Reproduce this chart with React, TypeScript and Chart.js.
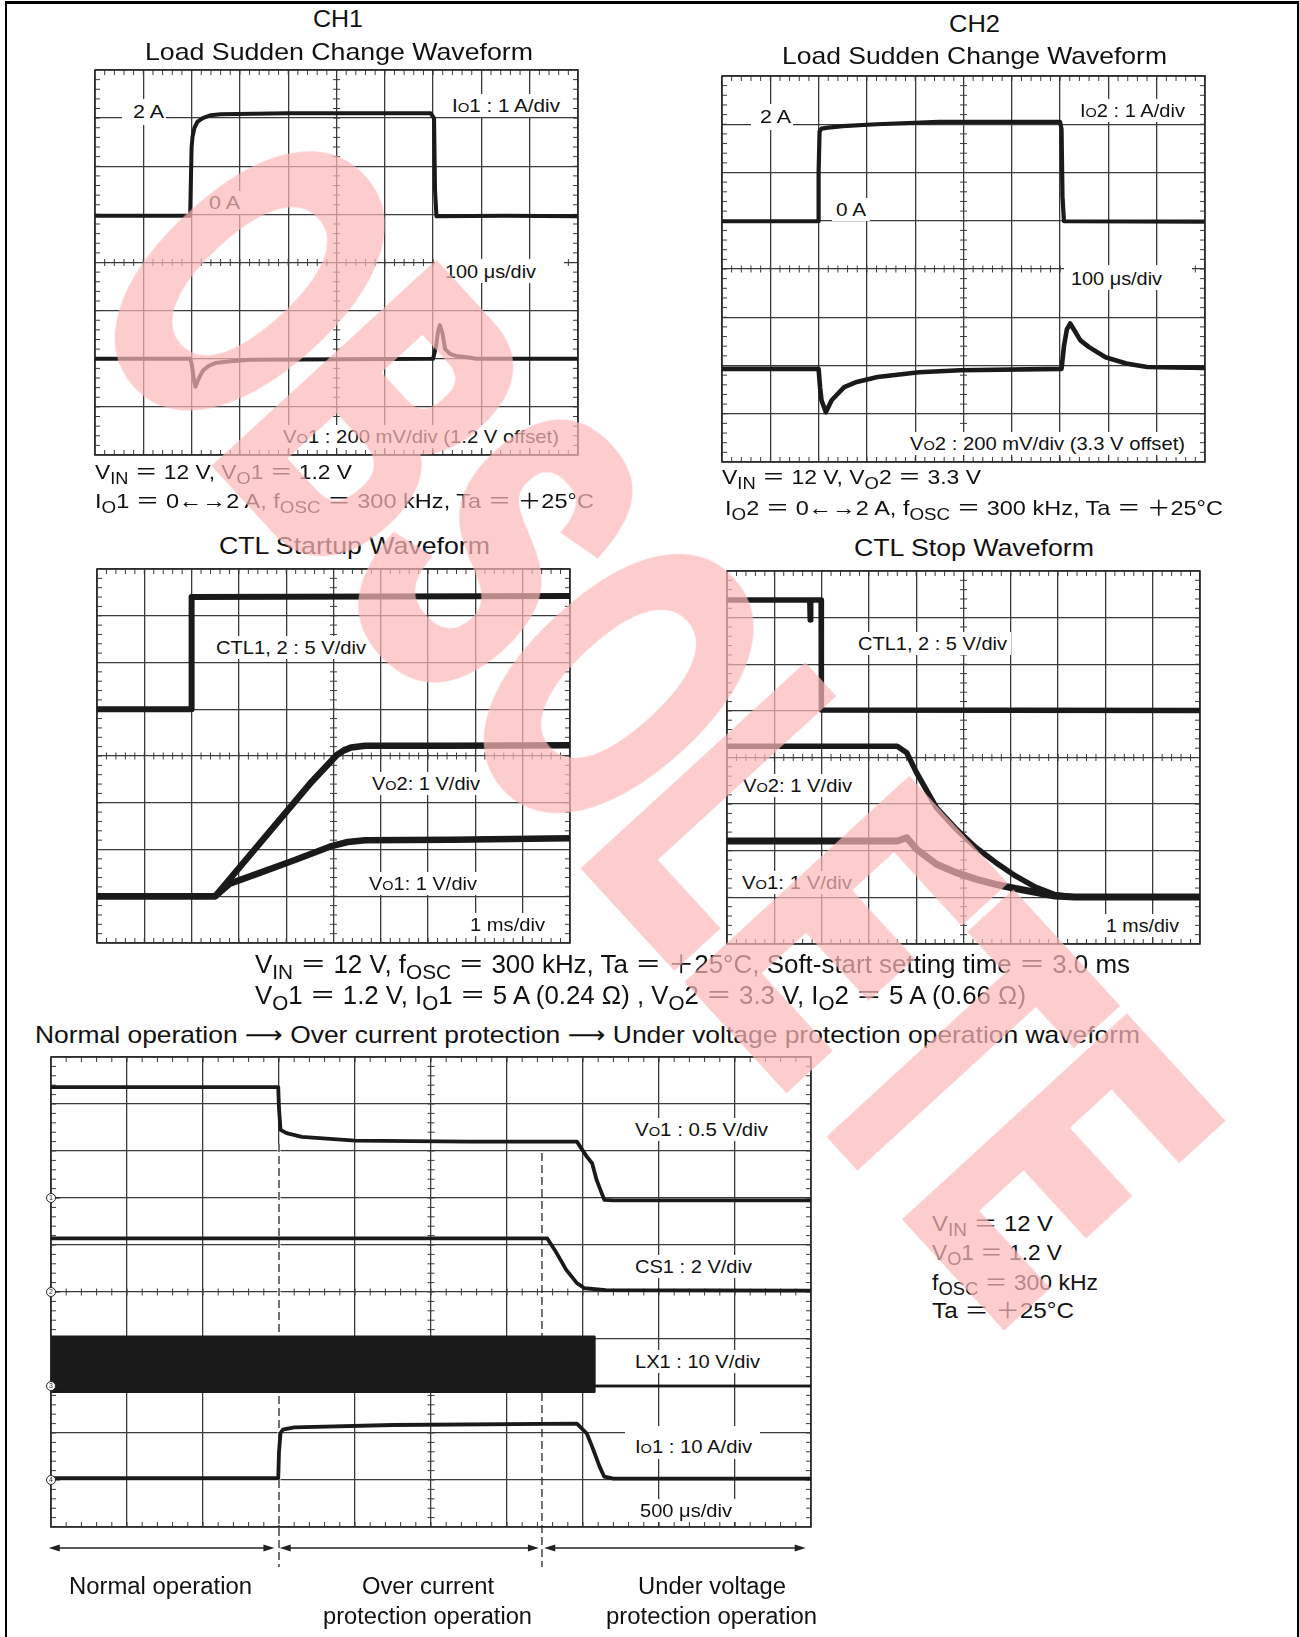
import React, { useEffect, useLayoutEffect, useRef } from "react";
import { Chart, registerables } from "chart.js";

Chart.register(...registerables);

const FONT = '"Liberation Sans", Arial, Helvetica, "Noto Sans CJK JP", "DejaVu Sans", sans-serif';
const INK = "#1a1a1a";
const GRID = "#3a3a3a";
const BORDER = "#2a2a2a";
const PAD = 8;

// ---------------- DATA (x: time divisions 0..10, y: vertical divisions) ----------------
// CH1 load sudden change (y -4..4)
const ch1IoX = [0, 1.97, 2.0, 2.02, 2.06, 2.12, 2.23, 2.4, 2.6, 4.0, 6.95, 7.02, 7.04, 7.07, 8.5, 10];
const ch1IoY = [0.97, 0.97, 2.4, 2.62, 2.8, 2.92, 3.0, 3.06, 3.08, 3.1, 3.1, 3.0, 1.5, 0.96, 0.97, 0.96];
const ch1VoX = [0, 1.97, 2.0, 2.05, 2.08, 2.13, 2.23, 2.35, 2.49, 2.8, 3.2, 7.0, 7.06, 7.1, 7.14, 7.19, 7.25, 7.35, 7.47, 7.7, 7.9, 10];
const ch1VoY = [-2.0, -2.0, -2.1, -2.45, -2.58, -2.45, -2.25, -2.15, -2.09, -2.05, -2.02, -2.0, -1.75, -1.45, -1.3, -1.45, -1.8, -1.9, -1.94, -1.97, -2.0, -2.0];

// CH2 load sudden change (y -4..4)
const ch2IoX = [0, 1.99, 2.0, 2.02, 2.06, 2.2, 2.5, 3.2, 4.5, 6.0, 7.0, 7.03, 7.05, 7.08, 10];
const ch2IoY = [0.99, 0.99, 2.0, 2.85, 2.91, 2.93, 2.96, 3.0, 3.05, 3.05, 3.05, 2.9, 1.5, 0.99, 0.98];
const ch2VoX = [0, 2.0, 2.03, 2.06, 2.15, 2.27, 2.53, 2.79, 3.22, 4.08, 4.94, 7.03, 7.08, 7.14, 7.21, 7.3, 7.42, 7.6, 7.94, 8.37, 8.8, 10];
const ch2VoY = [-2.07, -2.07, -2.45, -2.72, -2.97, -2.72, -2.45, -2.34, -2.24, -2.14, -2.1, -2.07, -1.6, -1.25, -1.13, -1.28, -1.48, -1.62, -1.83, -1.96, -2.03, -2.05];

// CTL startup (y -4..4)
const stCtlX = [0, 2.0, 2.0, 10];
const stCtlY = [1.0, 1.0, 3.4, 3.42];
const stVo2X = [0, 2.5, 4.54, 5.07, 5.22, 5.37, 5.67, 7.5, 10];
const stVo2Y = [-3.0, -3.0, -0.55, 0.02, 0.12, 0.18, 0.22, 0.22, 0.23];
const stVo1X = [0, 2.5, 2.81, 3.41, 4.17, 4.92, 5.3, 5.67, 7.5, 10];
const stVo1Y = [-3.0, -3.0, -2.73, -2.51, -2.23, -1.94, -1.84, -1.8, -1.79, -1.76];

// CTL stop (y -4..4)
const spCtlX = [0, 1.75, 1.76, 1.77, 1.99, 1.995, 10];
const spCtlY = [3.38, 3.38, 2.95, 3.38, 3.38, 1.02, 1.01];
const spVo2X = [0, 3.6, 3.8, 4.01, 4.43, 4.85, 5.26, 5.68, 6.1, 6.52, 6.93, 7.35, 10];
const spVo2Y = [0.24, 0.24, 0.1, -0.33, -1.08, -1.54, -1.93, -2.25, -2.54, -2.78, -2.94, -2.99, -2.99];
const spVo1X = [0, 3.6, 3.8, 4.01, 4.43, 4.85, 5.26, 5.68, 6.1, 6.52, 6.93, 7.35, 10];
const spVo1Y = [-1.79, -1.79, -1.72, -1.97, -2.29, -2.47, -2.61, -2.72, -2.81, -2.89, -2.97, -2.99, -2.99];

// Normal -> OCP -> UVP (y 0..10)
const pVoX = [0, 2.99, 3.0, 3.02, 3.1, 3.3, 4.0, 5.5, 6.92, 6.98, 7.05, 7.12, 7.18, 7.28, 7.4, 10];
const pVoY = [9.36, 9.36, 8.9, 8.45, 8.38, 8.3, 8.22, 8.2, 8.2, 8.05, 7.88, 7.74, 7.38, 6.96, 6.95, 6.95];
const pCsX = [0, 6.53, 6.63, 6.78, 6.92, 7.02, 7.3, 10];
const pCsY = [6.14, 6.14, 5.89, 5.47, 5.19, 5.08, 5.04, 5.03];
const pLxX = [0, 7.15, 7.15, 10];
const pLxTopY = [4.05, 4.05, 3.0, 3.0];
const pLxBotY = [2.88, 2.88, 3.0, 3.0];
const pIoX = [0, 2.99, 3.0, 3.02, 3.05, 3.2, 4.5, 6.92, 7.05, 7.12, 7.22, 7.28, 7.4, 10];
const pIoY = [1.04, 1.04, 1.6, 2.0, 2.07, 2.12, 2.17, 2.2, 1.99, 1.71, 1.28, 1.07, 1.03, 1.03];
const pMarkerLevels = [7, 5, 3, 1];
const pMarkerLabels = ["1", "2", "3", "4"];
const pDashX = [3.0, 6.46];
const pDashTop = [8.15, 7.96];
const pArrowFrom = [-0.03, 3.01, 6.49];
const pArrowTo = [2.94, 6.42, 9.93];

// ---------------- helpers ----------------
const pts = (xs: number[], ys: number[]) => xs.map((x, i) => ({ x, y: ys[i] }));

function trace(xs: number[], ys: number[], w: number, extra: any = {}) {
  return {
    data: pts(xs, ys),
    borderColor: INK,
    backgroundColor: INK,
    borderWidth: w,
    pointRadius: 0,
    fill: false,
    tension: 0,
    borderJoinStyle: "round",
    borderCapStyle: "round",
    ...extra,
  };
}

type ScopeCfg = {
  cx: number;
  cy: number;
  dashBelow?: number;
  arrowDy?: number;
  withExtras?: boolean;
};

function scopePlugin(cfg: ScopeCfg) {
  return {
    id: "scope",
    beforeDatasetsDraw(chart: any) {
      const { ctx, chartArea: a, scales } = chart;
      const sx = scales.x;
      const sy = scales.y;
      ctx.save();
      ctx.strokeStyle = GRID;
      ctx.lineWidth = 1;
      const pcx = sx.getPixelForValue(cfg.cx);
      const pcy = sy.getPixelForValue(cfg.cy);
      ctx.beginPath();
      const nx = Math.round((sx.max - sx.min) * 5);
      for (let i = 1; i < nx; i++) {
        const p = sx.getPixelForValue(sx.min + i / 5);
        ctx.moveTo(p, pcy - 3.5);
        ctx.lineTo(p, pcy + 3.5);
        ctx.moveTo(p, a.top);
        ctx.lineTo(p, a.top + 5);
        ctx.moveTo(p, a.bottom);
        ctx.lineTo(p, a.bottom - 5);
      }
      const ny = Math.round((sy.max - sy.min) * 5);
      for (let i = 1; i < ny; i++) {
        const p = sy.getPixelForValue(sy.min + i / 5);
        ctx.moveTo(pcx - 3.5, p);
        ctx.lineTo(pcx + 3.5, p);
        ctx.moveTo(a.left, p);
        ctx.lineTo(a.left + 5, p);
        ctx.moveTo(a.right, p);
        ctx.lineTo(a.right - 5, p);
      }
      ctx.stroke();
      ctx.lineWidth = 1.6;
      ctx.strokeStyle = BORDER;
      ctx.strokeRect(a.left, a.top, a.right - a.left, a.bottom - a.top);

      if (cfg.withExtras) {
        pDashX.forEach((dx, i) => {
          const px = sx.getPixelForValue(dx);
          const pt = sy.getPixelForValue(pDashTop[i]);
          if (i === 0) {
            ctx.setLineDash([]);
            ctx.strokeStyle = "#fff";
            ctx.lineWidth = 3;
            ctx.beginPath();
            ctx.moveTo(px, pt);
            ctx.lineTo(px, a.bottom - 2);
            ctx.stroke();
          }
          ctx.setLineDash([8, 4]);
          ctx.strokeStyle = "#262626";
          ctx.lineWidth = 1.3;
          ctx.beginPath();
          ctx.moveTo(px, pt);
          ctx.lineTo(px, a.bottom + (cfg.dashBelow || 0));
          ctx.stroke();
        });
        ctx.setLineDash([]);
      }
      ctx.restore();
    },
    afterDraw(chart: any) {
      if (!cfg.withExtras) return;
      const { ctx, chartArea: a, scales } = chart;
      const sx = scales.x;
      const sy = scales.y;
      ctx.save();
      const ay = a.bottom + (cfg.arrowDy || 0);
      ctx.strokeStyle = "#222";
      ctx.fillStyle = "#222";
      ctx.lineWidth = 1.3;
      pArrowFrom.forEach((f, i) => {
        const x0 = sx.getPixelForValue(f);
        const x1 = sx.getPixelForValue(pArrowTo[i]);
        ctx.beginPath();
        ctx.moveTo(x0 + 6, ay);
        ctx.lineTo(x1 - 6, ay);
        ctx.stroke();
        ctx.beginPath();
        ctx.moveTo(x0, ay);
        ctx.lineTo(x0 + 11, ay - 3.5);
        ctx.lineTo(x0 + 11, ay + 3.5);
        ctx.closePath();
        ctx.fill();
        ctx.beginPath();
        ctx.moveTo(x1, ay);
        ctx.lineTo(x1 - 11, ay - 3.5);
        ctx.lineTo(x1 - 11, ay + 3.5);
        ctx.closePath();
        ctx.fill();
      });
      pMarkerLevels.forEach((lv, i) => {
        const py = sy.getPixelForValue(lv);
        ctx.beginPath();
        ctx.arc(a.left, py, 4.5, 0, Math.PI * 2);
        ctx.fillStyle = "#fff";
        ctx.fill();
        ctx.lineWidth = 1;
        ctx.strokeStyle = "#222";
        ctx.stroke();
        ctx.beginPath();
        ctx.moveTo(a.left + 4.5, py);
        ctx.lineTo(a.left + 9, py);
        ctx.stroke();
        ctx.fillStyle = "#222";
        ctx.font = "7px " + FONT;
        ctx.textAlign = "center";
        ctx.textBaseline = "middle";
        ctx.fillText(pMarkerLabels[i], a.left, py + 0.5);
      });
      ctx.restore();
    },
  };
}

function makeChart(canvas: HTMLCanvasElement, datasets: any[], ymin: number, ymax: number, cfg: ScopeCfg, extraB = 0) {
  const axis = (min: number, max: number) => ({
    type: "linear",
    min,
    max,
    ticks: { display: false, stepSize: 1, autoSkip: false },
    grid: { color: GRID, lineWidth: 1.3, drawTicks: false },
    border: { display: false },
  });
  return new Chart(canvas, {
    type: "line",
    data: { datasets },
    options: {
      animation: false,
      responsive: false,
      maintainAspectRatio: false,
      events: [],
      layout: { padding: { left: PAD, right: PAD, top: PAD, bottom: PAD + extraB } },
      plugins: { legend: { display: false }, tooltip: { enabled: false } },
      scales: { x: axis(0, 10), y: axis(ymin, ymax) } as any,
      elements: { point: { radius: 0 } },
    },
    plugins: [scopePlugin(cfg) as any],
  } as any);
}

type Rect = { L: number; T: number; W: number; H: number; extraB?: number };
const R1: Rect = { L: 95, T: 70, W: 483, H: 385 };
const R2: Rect = { L: 722, T: 76, W: 483, H: 386 };
const R3: Rect = { L: 97, T: 569, W: 473, H: 374 };
const R4: Rect = { L: 727, T: 571, W: 473, H: 373 };
const R5: Rect = { L: 51, T: 1057, W: 760, H: 470, extraB: 45 };

function Scope({ rect, build }: { rect: Rect; build: (c: HTMLCanvasElement) => Chart }) {
  const ref = useRef<HTMLCanvasElement>(null);
  useEffect(() => {
    const ch = build(ref.current as HTMLCanvasElement);
    return () => ch.destroy();
  }, []);
  const w = rect.W + 2 * PAD;
  const h = rect.H + 2 * PAD + (rect.extraB || 0);
  return (
    <canvas
      ref={ref}
      width={w}
      height={h}
      style={{ position: "absolute", left: rect.L - PAD, top: rect.T - PAD, width: w, height: h }}
    />
  );
}

const buildCH1 = (c: HTMLCanvasElement) =>
  makeChart(c, [trace(ch1IoX, ch1IoY, 4), trace(ch1VoX, ch1VoY, 4)], -4, 4, { cx: 5, cy: 0 });
const buildCH2 = (c: HTMLCanvasElement) =>
  makeChart(c, [trace(ch2IoX, ch2IoY, 4.2), trace(ch2VoX, ch2VoY, 4.6)], -4, 4, { cx: 5, cy: 0 });
const buildStart = (c: HTMLCanvasElement) =>
  makeChart(c, [trace(stCtlX, stCtlY, 6), trace(stVo2X, stVo2Y, 6.5), trace(stVo1X, stVo1Y, 6.5)], -4, 4, { cx: 5, cy: 0 });
const buildStop = (c: HTMLCanvasElement) =>
  makeChart(c, [trace(spCtlX, spCtlY, 5.5), trace(spVo2X, spVo2Y, 5.5), trace(spVo1X, spVo1Y, 7)], -4, 4, { cx: 5, cy: 0 });
const buildProt = (c: HTMLCanvasElement) =>
  makeChart(
    c,
    [
      trace(pVoX, pVoY, 3.8),
      trace(pCsX, pCsY, 3.8),
      trace(pLxX, pLxTopY, 2.5, { fill: "+1" }),
      trace(pLxX, pLxBotY, 2.5),
      trace(pIoX, pIoY, 3.8),
    ],
    0,
    10,
    { cx: 5, cy: 5, withExtras: true, dashBelow: 40, arrowDy: 21 },
    45
  );

// ---------------- text helpers ----------------
type TxtProps = { x?: number; cx?: number; y: number; w: number; fs: number; mask?: boolean | number[]; children: React.ReactNode };

function Txt({ x, cx, y, w, fs, mask, children }: TxtProps) {
  const ref = useRef<HTMLSpanElement>(null);
  useLayoutEffect(() => {
    const el = ref.current;
    if (!el) return;
    el.style.transform = "none";
    const nat = el.getBoundingClientRect().width;
    if (nat > 0) el.style.transform = `scaleX(${w / nat})`;
  });
  const m = mask === true ? [2, 4, 2, 4] : Array.isArray(mask) ? mask : [0, 0, 0, 0];
  const left = (cx !== undefined ? cx - w / 2 : (x as number)) - m[3];
  const top = y - 0.49 * fs - m[0];
  return (
    <div
      style={{
        position: "absolute",
        left,
        top,
        width: w,
        height: fs,
        padding: `${m[0]}px ${m[1]}px ${m[2]}px ${m[3]}px`,
        background: mask ? "#fff" : "transparent",
        fontSize: fs,
        lineHeight: `${fs}px`,
        whiteSpace: "nowrap",
      }}
    >
      <span ref={ref} style={{ display: "inline-block", transformOrigin: "0 0" }}>
        {children}
      </span>
    </div>
  );
}

const Sb = ({ children }: { children: React.ReactNode }) => (
  <span style={{ fontSize: "0.8em", verticalAlign: "-0.28em", lineHeight: 0 }}>{children}</span>
);
const So = () => <span style={{ fontSize: "0.72em" }}>O</span>;

const Mask = ({ l, t, w, h }: { l: number; t: number; w: number; h: number }) => (
  <div style={{ position: "absolute", left: l, top: t, width: w, height: h, background: "#fff" }} />
);

export default function App() {
  return (
    <div
      style={{
        position: "absolute",
        left: 0,
        top: 0,
        width: 1299,
        height: 1637,
        overflow: "hidden",
        background: "#fff",
        fontFamily: FONT,
        color: "#111",
      }}
    >
      <div
        style={{
          position: "absolute",
          left: 5,
          top: 1,
          width: 1290,
          height: 1640,
          borderTop: "3px solid #000",
          borderLeft: "2px solid #000",
          borderRight: "2px solid #000",
        }}
      />

      <Scope rect={R1} build={buildCH1} />
      <Scope rect={R2} build={buildCH2} />
      <Scope rect={R3} build={buildStart} />
      <Scope rect={R4} build={buildStop} />
      <Scope rect={R5} build={buildProt} />

      {/* titles */}
      <Txt cx={338} y={18.7} w={50} fs={24}>CH1</Txt>
      <Txt cx={339} y={51.3} w={388} fs={24}>Load Sudden Change Waveform</Txt>
      <Txt cx={974} y={23.3} w={51} fs={24}>CH2</Txt>
      <Txt cx={974} y={55.3} w={385} fs={24}>Load Sudden Change Waveform</Txt>
      <Txt cx={354.5} y={546} w={271} fs={24}>CTL Startup Waveform</Txt>
      <Txt cx={974} y={547.5} w={240} fs={24}>CTL Stop Waveform</Txt>

      {/* CH1 labels */}
      <Txt x={133} y={111.7} w={31} fs={19} mask={[3, 2, 4, 11]}>2 A</Txt>
      <Txt x={209} y={202.7} w={31} fs={19} mask>0 A</Txt>
      <Txt x={452} y={105} w={108} fs={19} mask>I<So />1 : 1 A/div</Txt>
      <Mask l={435} t={259} w={129} h={8} />
      <Txt x={445} y={271.7} w={91} fs={19} mask>100 μs/div</Txt>
      <Txt x={283} y={436} w={276} fs={19} mask>V<So />1 : 200 mV/div (1.2 V offset)</Txt>
      <Txt x={95} y={471} w={257} fs={21}>V<Sb>IN</Sb> ＝ 12 V, V<Sb>O</Sb>1 ＝ 1.2 V</Txt>
      <Txt x={95} y={500.5} w={499} fs={21}>I<Sb>O</Sb>1 ＝ 0←→2 A, f<Sb>OSC</Sb> ＝ 300 kHz, Ta ＝ ＋25°C</Txt>

      {/* CH2 labels */}
      <Txt x={760} y={116.7} w={31} fs={19} mask={[3, 2, 4, 9]}>2 A</Txt>
      <Txt x={836} y={209.7} w={30} fs={19} mask>0 A</Txt>
      <Txt x={1080} y={110.7} w={105} fs={19} mask>I<So />2 : 1 A/div</Txt>
      <Mask l={1064} t={265} w={128} h={8} />
      <Txt x={1071} y={278} w={91} fs={19} mask>100 μs/div</Txt>
      <Txt x={910} y={443} w={275} fs={19} mask>V<So />2 : 200 mV/div (3.3 V offset)</Txt>
      <Txt x={722} y={476} w={259} fs={21}>V<Sb>IN</Sb> ＝ 12 V, V<Sb>O</Sb>2 ＝ 3.3 V</Txt>
      <Txt x={725} y={507} w={498} fs={21}>I<Sb>O</Sb>2 ＝ 0←→2 A, f<Sb>OSC</Sb> ＝ 300 kHz, Ta ＝ ＋25°C</Txt>

      {/* CTL startup labels */}
      <Txt x={216} y={647} w={150} fs={19} mask>CTL1, 2 : 5 V/div</Txt>
      <Txt x={372} y={783.7} w={108} fs={19} mask>V<So />2: 1 V/div</Txt>
      <Txt x={368.6} y={883.7} w={108} fs={19} mask>V<So />1: 1 V/div</Txt>
      <Txt x={469.5} y={924.5} w={75} fs={19} mask>1 ms/div</Txt>

      {/* CTL stop labels */}
      <Txt x={858.4} y={643.7} w={149} fs={19} mask>CTL1, 2 : 5 V/div</Txt>
      <Txt x={743} y={785} w={109} fs={19} mask>V<So />2: 1 V/div</Txt>
      <Txt x={742} y={882} w={110} fs={19} mask>V<So />1: 1 V/div</Txt>
      <Txt x={1106} y={925.5} w={73} fs={19} mask>1 ms/div</Txt>

      {/* middle conditions */}
      <Txt x={255} y={964} w={875} fs={25}>
        V<Sb>IN</Sb> ＝ 12 V, f<Sb>OSC</Sb> ＝ 300 kHz, Ta ＝ ＋25°C, Soft-start setting time ＝ 3.0 ms
      </Txt>
      <Txt x={255} y={995} w={771} fs={25}>
        V<Sb>O</Sb>1 ＝ 1.2 V, I<Sb>O</Sb>1 ＝ 5 A (0.24 Ω) , V<Sb>O</Sb>2 ＝ 3.3 V, I<Sb>O</Sb>2 ＝ 5 A (0.66 Ω)
      </Txt>
      <Txt x={35} y={1035} w={1105} fs={24}>
        Normal operation ⟶ Over current protection ⟶ Under voltage protection operation waveform
      </Txt>

      {/* protection panel labels */}
      <Txt x={635} y={1129} w={133} fs={19} mask>V<So />1 : 0.5 V/div</Txt>
      <Txt x={635} y={1266.7} w={117} fs={19} mask>CS1 : 2 V/div</Txt>
      <Txt x={635} y={1361.7} w={125} fs={19} mask>LX1 : 10 V/div</Txt>
      <Txt x={635} y={1446.7} w={117} fs={19} mask={[11, 8, 3, 10]}>I<So />1 : 10 A/div</Txt>
      <Txt x={640} y={1510} w={92} fs={19} mask>500 μs/div</Txt>

      <Txt cx={160.5} y={1586.7} w={183} fs={23}>Normal operation</Txt>
      <Txt cx={428} y={1586.7} w={132} fs={23}>Over current</Txt>
      <Txt cx={427.5} y={1616} w={209} fs={23}>protection operation</Txt>
      <Txt cx={712} y={1586.7} w={148} fs={23}>Under voltage</Txt>
      <Txt cx={711.5} y={1616} w={211} fs={23}>protection operation</Txt>

      {/* right conditions */}
      <Txt x={932} y={1223.7} w={121} fs={22}>V<Sb>IN</Sb> ＝ 12 V</Txt>
      <Txt x={932} y={1253} w={130} fs={22}>V<Sb>O</Sb>1 ＝ 1.2 V</Txt>
      <Txt x={932} y={1283} w={166} fs={22}>f<Sb>OSC</Sb> ＝ 300 kHz</Txt>
      <Txt x={932} y={1311} w={142} fs={22}>Ta ＝ ＋25°C</Txt>

      {/* watermark */}
      <div
        style={{
          position: "absolute",
          left: 652,
          top: 720,
          transform: "translate(-50%, -50%) rotate(47.5deg) scaleX(0.6)",
          fontFamily: '"Liberation Sans", Arial, sans-serif',
          fontWeight: 700,
          fontSize: 420,
          lineHeight: 1,
          whiteSpace: "nowrap",
          color: "rgb(252,184,186)",
          WebkitTextStroke: "16px rgb(252,184,186)",
          opacity: 0.7,
          pointerEvents: "none",
        }}
      >
        OBSOLETE
      </div>
    </div>
  );
}
